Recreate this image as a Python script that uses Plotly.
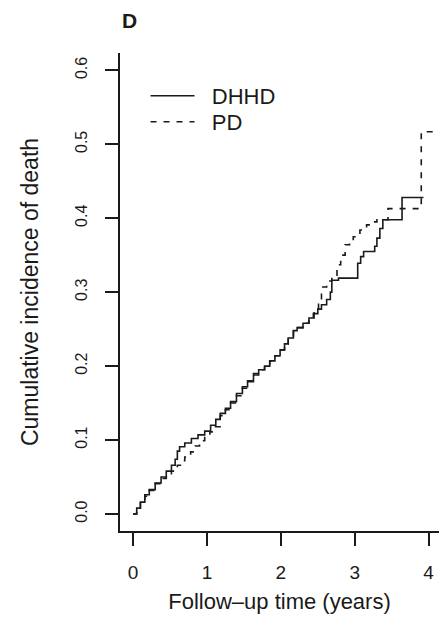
import plotly.graph_objects as go

# DHHD (solid) step breakpoints: time (years), cumulative incidence
dhhd_t = [0.00, 0.05, 0.10, 0.16, 0.22, 0.30, 0.38, 0.45, 0.52, 0.57, 0.60, 0.63, 0.70, 0.79,
          0.88, 0.97, 1.05, 1.12, 1.18, 1.25, 1.32, 1.40, 1.48, 1.55, 1.63, 1.70, 1.78, 1.85,
          1.92, 1.99, 2.05, 2.10, 2.17, 2.22, 2.30, 2.38, 2.44, 2.50, 2.55, 2.62, 2.67, 2.69,
          2.78, 3.04, 3.08, 3.12, 3.27, 3.30, 3.34, 3.38, 3.64, 3.93]
dhhd_v = [0.000, 0.008, 0.016, 0.026, 0.033, 0.042, 0.050, 0.058, 0.066, 0.074, 0.085, 0.091, 0.096, 0.102,
          0.107, 0.112, 0.120, 0.128, 0.136, 0.143, 0.152, 0.163, 0.172, 0.180, 0.190, 0.195, 0.200, 0.207,
          0.214, 0.222, 0.230, 0.238, 0.248, 0.252, 0.258, 0.265, 0.271, 0.277, 0.283, 0.290, 0.300, 0.316,
          0.319, 0.339, 0.348, 0.355, 0.362, 0.373, 0.386, 0.398, 0.428, 0.428]

# PD (dashed) step breakpoints
pd_t = [0.00, 0.05, 0.10, 0.16, 0.22, 0.30, 0.38, 0.45, 0.52, 0.60, 0.66, 0.70, 0.78, 0.84,
        0.90, 0.97, 1.04, 1.10, 1.18, 1.25, 1.32, 1.40, 1.48, 1.55, 1.63, 1.70, 1.78, 1.85,
        1.92, 1.99, 2.05, 2.10, 2.17, 2.22, 2.30, 2.38, 2.45, 2.51, 2.55, 2.62, 2.69, 2.76,
        2.78, 2.81, 2.87, 2.93, 2.98, 3.07, 3.16, 3.25, 3.30, 3.45, 3.90, 4.20]
pd_v = [0.000, 0.008, 0.015, 0.024, 0.032, 0.041, 0.048, 0.053, 0.058, 0.066, 0.072, 0.077, 0.084, 0.092,
        0.099, 0.105, 0.111, 0.118, 0.133, 0.141, 0.150, 0.160, 0.170, 0.179, 0.188, 0.195, 0.200, 0.207,
        0.214, 0.222, 0.230, 0.238, 0.247, 0.252, 0.258, 0.265, 0.275, 0.289, 0.307, 0.315, 0.321, 0.330,
        0.337, 0.350, 0.364, 0.370, 0.375, 0.384, 0.391, 0.395, 0.398, 0.413, 0.517, 0.517]

x_ticks = [0, 1, 2, 3, 4]
y_ticks = [0.0, 0.1, 0.2, 0.3, 0.4, 0.5, 0.6]
y_ticktext = ["0.0", "0.1", "0.2", "0.3", "0.4", "0.5", "0.6"]
series_names = ["DHHD", "PD"]

FONT = "Liberation Sans, Arial, sans-serif"
INK = "#1a1a1a"
PAD = "\u00a0\u00a0"

fig = go.Figure()
fig.add_trace(go.Scatter(x=dhhd_t, y=dhhd_v, mode="lines", name=PAD + series_names[0],
                         legend="legend",
                         line=dict(color=INK, width=1.6, shape="hv")))
fig.add_trace(go.Scatter(x=pd_t, y=pd_v, mode="lines", name=PAD + series_names[1],
                         legend="legend2",
                         line=dict(color=INK, width=1.6, shape="hv", dash="6px,7px")))

def px_to_paper_y(py):
    return 1 - (py - 53) / 478

leg_common = dict(x=0.08, xanchor="left", yanchor="middle", bgcolor="rgba(0,0,0,0)",
                  font=dict(size=22, family=FONT, color=INK), itemwidth=44)

fig.update_layout(
    width=439, height=627,
    margin=dict(l=120, r=0, t=53, b=96),
    paper_bgcolor="white", plot_bgcolor="white",
    font=dict(family=FONT, size=18, color=INK),
    showlegend=True,
    legend=dict(y=px_to_paper_y(96), **leg_common),
    legend2=dict(y=px_to_paper_y(122), **leg_common),
    xaxis=dict(range=[-0.176, 4.14], tickvals=x_ticks, ticks="outside", ticklen=13, tickwidth=1.5,
               tickcolor=INK, showline=True, linecolor=INK, linewidth=1.5, showgrid=False,
               zeroline=False, ticklabelstandoff=10, tickfont=dict(size=19),
               title=dict(text="Follow\u2013up time (years)", standoff=12, font=dict(size=22))),
    yaxis=dict(range=[-0.023, 0.6234], tickvals=y_ticks, ticktext=y_ticktext, ticks="outside",
               ticklen=13, tickwidth=1.5, tickcolor=INK, showline=True, linecolor=INK, linewidth=1.5,
               showgrid=False, zeroline=False, tickangle=-90, ticklabelstandoff=12,
               tickfont=dict(size=16),
               title=dict(text="Cumulative incidence of death", standoff=28, font=dict(size=23))),
    annotations=[dict(text="<b>D</b>", x=(129 - 120) / 319, y=1 + (53 - 20) / 478,
                      xref="paper", yref="paper", xanchor="center", yanchor="middle",
                      showarrow=False, font=dict(size=21))],
)

fig.write_html("out.html")
